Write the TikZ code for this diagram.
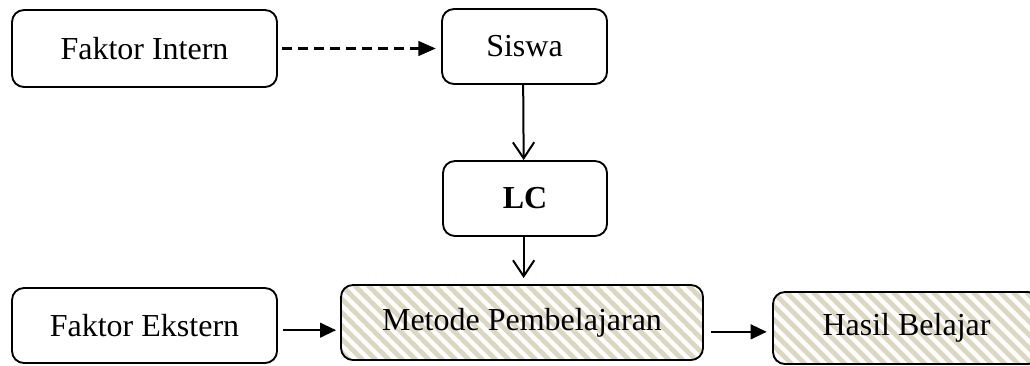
\documentclass[tikz,border=0pt]{standalone}
\usepackage{fontspec}
\setmainfont{Liberation Serif}
\usepackage{xcolor}
\usetikzlibrary{positioning, arrows.meta, calc}
\definecolor{stripecol}{RGB}{220,215,193}

\begin{document}
\begin{tikzpicture}[
  x=0.75pt, y=-0.75pt,
  font=\fontsize{24}{28}\selectfont,
  box/.style={rectangle, rounded corners=9pt, draw=black, line width=1.4pt, fill=white,
              align=center, inner sep=0pt, minimum height=56.25pt},
  hatch/.style={path picture={
      \foreach \i in {-7,...,30}
        \draw[stripecol, line width=3.6pt]
          ([xshift=\i*10pt]path picture bounding box.north west) -- ++(62pt,-62pt);}},
  dsh/.style={-{Triangle[length=13pt, width=11pt]}, line width=1.6pt, dash pattern=on 7.5pt off 4.5pt},
  vee/.style={-{Straight Barb[length=12pt, width=16pt]}, line width=1.5pt},
  arr/.style={-{Triangle[length=12pt, width=11pt]}, line width=1.6pt}]
\useasboundingbox (0,0) rectangle (1030,365);
% --- top row ---
\node[box, minimum width=198.75pt, minimum height=57.75pt] (intern) at (144.5,48.5) {Faktor Intern};
\node[box, minimum width=123.75pt] (siswa) at (524.5,46.5) {Siswa};
% --- middle ---
\node[box, minimum width=123pt] (lc) at (525,198.5) {\textbf{LC}};
% --- bottom row ---
\node[box, minimum width=198.75pt] (ekstern) at (144.5,325.5) {Faktor Ekstern};
\node[box, hatch, minimum width=271.5pt] (metode) at (522,322.5) {Metode Pembelajaran};
\node[box, hatch, minimum width=200.25pt, minimum height=54pt] (hasil) at (906.5,328) {Hasil Belajar};
% arrows
\draw[dsh] ([xshift=3pt]intern.east) -- ([xshift=-4pt]siswa.west |- intern.east);
\draw[vee] ([xshift=-1pt]siswa.south) -- ([xshift=-1pt]lc.north);
\draw[vee] ([xshift=-1pt]lc.south) -- ([xshift=-1pt, yshift=4.5pt]lc.south |- metode.north);
\draw[arr] ([xshift=4pt, yshift=-3.5pt]ekstern.east) -- ([xshift=-3pt, yshift=-3.5pt]ekstern.east -| metode.west);
\draw[arr] ([xshift=5pt, yshift=-7pt]metode.east) -- ([xshift=-4pt, yshift=-7pt]metode.east -| hasil.west);
\end{tikzpicture}
\end{document}
